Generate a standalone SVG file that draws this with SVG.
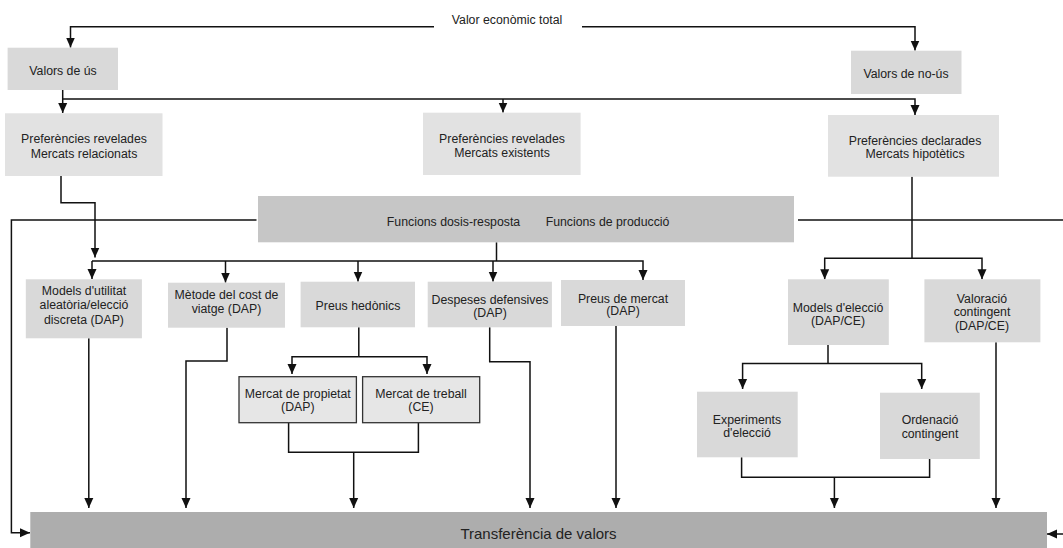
<svg xmlns="http://www.w3.org/2000/svg" width="1063" height="548" viewBox="0 0 1063 548">
<defs>
<marker id="arr" markerUnits="userSpaceOnUse" markerWidth="10" markerHeight="10" refX="10" refY="5" orient="auto" viewBox="0 0 10 10">
<path d="M0,0.5 L10,5 L0,9.5 z" fill="#111"/>
</marker>
</defs>
<style>
text{font-family:"Liberation Sans",Arial,sans-serif;font-size:12.3px;fill:#222;text-anchor:middle;}
.b1{fill:#d9d9d9;}
.b2{fill:#e2e2e2;}
.bf{fill:#c6c6c6;}
.bt{fill:#adadad;}
.bm{fill:#e6e6e6;stroke:#333;stroke-width:1.3;}
.c{fill:none;stroke:#111;stroke-width:1.5;}
.a{marker-end:url(#arr);}
.big{font-size:15px;}
</style>
<rect width="1063" height="548" fill="#fff"/>

<g id="connectors">
<path class="c a" d="M434,26.7 H70.5 V47.5"/>
<path class="c a" d="M582,26.7 H915 V50.5"/>
<path class="c a" d="M62.7,90 V113"/>
<path class="c a" d="M62.7,99 H915 V115"/>
<path class="c a" d="M503,99 V112.5"/>
<path class="c a" d="M61,176 V202.7 H95 V257.5"/>
<path class="c a" d="M92,261 H643 V280"/>
<path class="c a" d="M92,261 V279"/>
<path class="c a" d="M225.5,261 V282.5"/>
<path class="c a" d="M358,261 V281.5"/>
<path class="c a" d="M493,261 V281.5"/>
<path class="c" d="M496.5,242.3 V261"/>
<path class="c a" d="M256.5,220 H11.4 V532.7 H30"/>
<path class="c" d="M798,220 H1063"/>
<path class="c a" d="M1063,534 H1047"/>
<path class="c" d="M912,176.7 V258.3"/>
<path class="c a" d="M912,258.3 H824.7 V279.3"/>
<path class="c a" d="M912,258.3 H982 V279.3"/>
<path class="c a" d="M88.8,338.3 V508"/>
<path class="c a" d="M227,327.7 V361 H186 V508"/>
<path class="c" d="M358.8,327.3 V356.7"/>
<path class="c a" d="M358.8,356.7 H292 V374"/>
<path class="c a" d="M358.8,356.7 H427 V374"/>
<path class="c" d="M288.6,422.7 V452.3 H418.4 V422.7"/>
<path class="c a" d="M353.7,452.3 V508"/>
<path class="c a" d="M489.7,327.3 V361.7 H530 V508"/>
<path class="c a" d="M616,326 V508"/>
<path class="c" d="M828,345 V363.5"/>
<path class="c a" d="M828,363.5 H742.6 V389"/>
<path class="c a" d="M828,363.5 H921.7 V389"/>
<path class="c" d="M741.6,457.3 V477.3 H929.6 V459"/>
<path class="c a" d="M834.4,477.3 V508"/>
<path class="c a" d="M996,342.3 V508"/>
</g>

<g id="total">
<text x="507" y="23.5">Valor econòmic total</text>
</g>

<g id="valors-us">
<rect class="b1" x="7.6" y="47.7" width="110.4" height="42.3"/>
<text x="63" y="75">Valors de ús</text>
</g>

<g id="valors-no-us">
<rect class="b1" x="851" y="50.7" width="110.5" height="43.3"/>
<text x="906" y="77.6">Valors de no-ús</text>
</g>

<g id="pref-relacionats">
<rect class="b2" x="5" y="113.3" width="157.5" height="62.7"/>
<text x="84" y="143.3">Preferències revelades</text>
<text x="84" y="157.6">Mercats relacionats</text>
</g>

<g id="pref-existents">
<rect class="b2" x="423" y="112.7" width="157.6" height="62.3"/>
<text x="502" y="143.3">Preferències revelades</text>
<text x="502" y="157.3">Mercats existents</text>
</g>

<g id="pref-declarades">
<rect class="b2" x="828" y="115" width="171" height="61.7"/>
<text x="915" y="145">Preferències declarades</text>
<text x="915" y="158.3">Mercats hipotètics</text>
</g>

<g id="funcions">
<rect class="bf" x="258" y="196" width="536" height="46.3"/>
<text x="453.5" y="226">Funcions dosis-resposta</text>
<text x="607.5" y="226">Funcions de producció</text>
</g>

<g id="models-utilitat">
<rect class="b1" x="25.8" y="279.3" width="116.1" height="59"/>
<text x="84" y="295">Models d'utilitat</text>
<text x="84" y="309.3">aleatòria/elecció</text>
<text x="84" y="323.6">discreta (DAP)</text>
</g>

<g id="cost-viatge">
<rect class="b1" x="168" y="282.7" width="117" height="45"/>
<text x="226.5" y="298.6">Mètode del cost de</text>
<text x="226.5" y="312.6">viatge (DAP)</text>
</g>

<g id="preus-hedonics">
<rect class="b1" x="300.6" y="281.7" width="114.4" height="45.6"/>
<text x="358" y="310.3">Preus hedònics</text>
</g>

<g id="despeses">
<rect class="b1" x="427.7" y="281.7" width="124.2" height="45.6"/>
<text x="490" y="304.3">Despeses defensives</text>
<text x="490" y="317">(DAP)</text>
</g>

<g id="preus-mercat">
<rect class="b1" x="561" y="280" width="124" height="46"/>
<text x="623" y="302.6">Preus de mercat</text>
<text x="623" y="315.3">(DAP)</text>
</g>

<g id="models-eleccio">
<rect class="b1" x="788" y="279.3" width="100.8" height="65.7"/>
<text x="838" y="311.6">Models d'elecció</text>
<text x="838" y="325">(DAP/CE)</text>
</g>

<g id="valoracio-contingent">
<rect class="b1" x="924.4" y="279.3" width="116" height="63"/>
<text x="982" y="302.6">Valoració</text>
<text x="982" y="316">contingent</text>
<text x="982" y="330.3">(DAP/CE)</text>
</g>

<g id="mercat-propietat">
<rect class="bm" x="239" y="376.7" width="117.4" height="46"/>
<text x="297.8" y="397.6">Mercat de propietat</text>
<text x="297.8" y="411">(DAP)</text>
</g>

<g id="mercat-treball">
<rect class="bm" x="362.6" y="376.7" width="117.1" height="46"/>
<text x="421" y="397.6">Mercat de treball</text>
<text x="421" y="411">(CE)</text>
</g>

<g id="experiments">
<rect class="b1" x="697" y="391.7" width="100.7" height="65.6"/>
<text x="747" y="423.6">Experiments</text>
<text x="747" y="436.6">d'elecció</text>
</g>

<g id="ordenacio">
<rect class="b1" x="880" y="392.7" width="99.8" height="66.3"/>
<text x="930" y="424.3">Ordenació</text>
<text x="930" y="438.3">contingent</text>
</g>

<g id="transferencia">
<rect class="bt" x="30.3" y="512" width="1016.7" height="37"/>
<text class="big" x="538.5" y="538.7">Transferència de valors</text>
</g>
</svg>
